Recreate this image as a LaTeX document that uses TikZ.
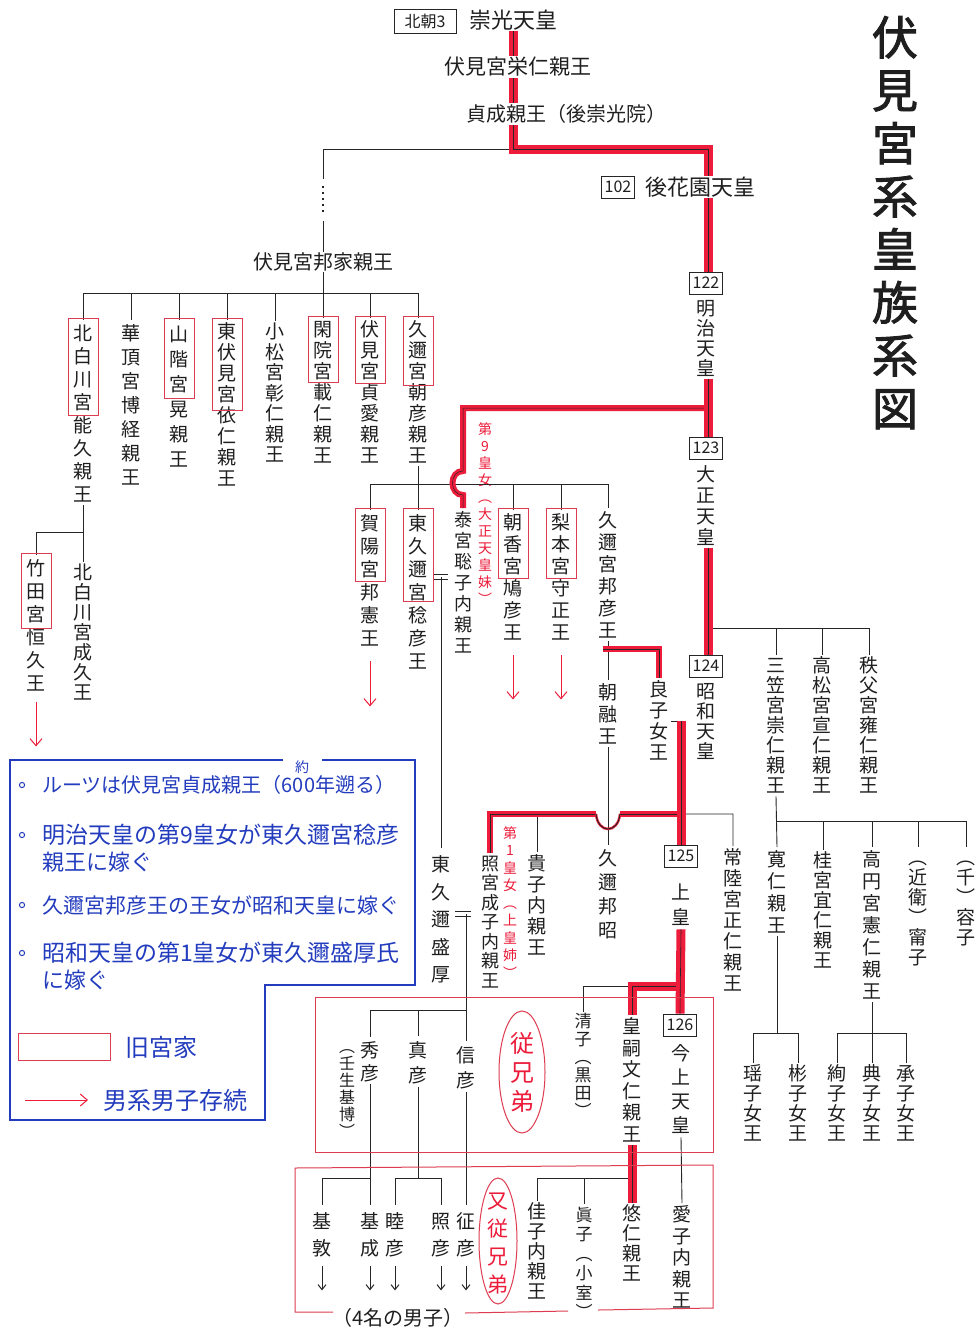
\documentclass[tikz,border=0pt]{standalone}
\usepackage{fontspec}
\setmainfont{Noto Sans CJK JP}
\newfontfamily\titlefont[FakeBold=2]{Noto Sans CJK JP}
\usetikzlibrary{arrows.meta}
\definecolor{redm}{RGB}{236,28,58}
\definecolor{redbx}{RGB}{222,60,80}
\definecolor{bluem}{RGB}{35,60,190}
\newdimen\vtp
\makeatletter
\def\vt@end{\vt@end}
\newcommand\vt[2][22pt]{\vtp=#1\relax\vbox{\offinterlineskip\vt@l#2\vt@end}}
\def\vt@l#1{\ifx#1\vt@end\else\hbox to 1.05em{\hss\vrule width0pt height.84\vtp depth.16\vtp\relax #1\hss}\expandafter\vt@l\fi}
\makeatother
\tikzset{
 every node/.style={text=black!88},
 vt/.style={anchor=north, inner sep=0.5pt, font=\fontsize{19}{22}\selectfont},
 hz/.style={inner sep=1pt, font=\fontsize{20}{24}\selectfont},
 numbox/.style={draw=black!85, line width=0.9pt, inner sep=1.5pt, minimum width=33pt, minimum height=22pt, font=\fontsize{16}{18}\selectfont},
 fl/.style={line width=0.9pt, draw=black!85},
 rl/.style={preaction={draw=redm, line width=9pt}, draw=black!85, line width=0.6pt},
 rls/.style={preaction={draw=redm, line width=6pt}, draw=black!85, line width=0.5pt},
 redbox/.style={draw=redbx, line width=1pt},
 rarr/.style={draw=redm, line width=1pt, -{Straight Barb[length=7pt,width=12pt]}},
 karr/.style={draw=black!85, line width=1pt, -{Straight Barb[length=5pt,width=8pt]}},
 bt/.style={anchor=west, text=bluem, inner sep=0pt, font=\fontsize{22}{26}\selectfont},
 redtxt/.style={anchor=north, text=redm, inner sep=0.5pt, font=\fontsize{14}{17}\selectfont},
}
\newcommand\gbox[2]{\draw[redbox] ([xshift=-15pt,yshift=2pt]#1.north) rectangle ([xshift=15pt,yshift=-#2pt]#1.north);}
\begin{document}
\begin{tikzpicture}[x=1pt,y=-1pt]
\useasboundingbox (0,0) rectangle (977,1341);
\fill[white] (0,0) rectangle (977,1341);

% title
\node[anchor=north, inner sep=0pt, font=\titlefont\fontsize{46}{50}\selectfont] (title) at (895,10) {\vt[53pt]{伏見宮系皇族系図}};

% top line
\node[numbox, minimum width=62pt, minimum height=24pt] (hc3) at (425,21) {北朝3};
\node[hz, font=\fontsize{22}{24}\selectfont] (suko) at (513,20) {崇光天皇};
\node[hz, font=\fontsize{21}{24}\selectfont] (yoshihito) at (518,67) {伏見宮栄仁親王};
\node[hz] (sadafusa) at (566,114) {貞成親王（後崇光院）};
\node[numbox] (n102) at (618,187) {102};
\node[hz, font=\fontsize{22}{24}\selectfont] (gohanazono) at (700,187) {後花園天皇};
\node[hz] (kuniie) at (323,262) {伏見宮邦家親王};

\node[numbox] (n122) at (706,283) {122};
\node[vt] (meiji) at (706,298) {\vt[20pt]{明治天皇}};
\node[numbox] (n123) at (706,448) {123};
\node[vt] (taisho) at (706,463) {\vt[21pt]{大正天皇}};
\node[numbox] (n124) at (706,666) {124};
\node[vt] (showa) at (706,681) {\vt[20pt]{昭和天皇}};

\node[vt] (mikasa) at (776,655) {\vt[20pt]{三笠宮崇仁親王}};
\node[vt] (takamatsu) at (822,655) {\vt[20pt]{高松宮宣仁親王}};
\node[vt] (chichibu) at (869,655) {\vt[20pt]{秩父宮雍仁親王}};

% Kuniie children
\node[vt] (kitashirakawa) at (83,320) {\vt[23pt]{北白川宮能久親王}};
\node[vt] (kacho) at (131,320) {\vt[24pt]{華頂宮博経親王}};
\node[vt] (yamashina) at (179,320) {\vt[25pt]{山階宮晃親王}};
\node[vt] (higashifushimi) at (227,320) {\vt[21pt]{東伏見宮依仁親王}};
\node[vt] (komatsu) at (275,321) {\vt[20.5pt]{小松宮彰仁親王}};
\node[vt] (kanin) at (323,318) {\vt[21pt]{閑院宮載仁親王}};
\node[vt] (fushimi) at (370,318) {\vt[21pt]{伏見宮貞愛親王}};
\node[vt] (kuni) at (418,318) {\vt[21pt]{久邇宮朝彦親王}};

\node[vt] (takeda) at (36,555) {\vt[23pt]{竹田宮恒久王}};
\node[vt] (naruhisa) at (83,562) {\vt[20pt]{北白川宮成久王}};

\node[vt] (kaya) at (370,510) {\vt[23pt]{賀陽宮邦憲王}};
\node[vt] (higashikuni) at (418,510) {\vt[23pt]{東久邇宮稔彦王}};
\node[vt, font=\fontsize{18}{21}\selectfont] (satoko) at (463,508) {\vt[21pt]{泰宮聡子内親王}};
\node[redtxt] (dai9) at (485,420) {\vt[17pt]{第9皇女︵大正天皇妹︶}};
\node[vt] (asaka) at (513,510) {\vt[22pt]{朝香宮鳩彦王}};
\node[vt] (nashimoto) at (561,510) {\vt[22pt]{梨本宮守正王}};
\node[vt] (kuniyoshi) at (608,508) {\vt[22pt]{久邇宮邦彦王}};
\node[vt] (asaakira) at (608,680) {\vt[22pt]{朝融王}};
\node[vt] (nagako) at (659,678) {\vt[21pt]{良子女王}};

\node[vt] (morihiro) at (441,848) {\vt[27.5pt]{東久邇盛厚}};

% Showa children
\node[vt, font=\fontsize{18}{21}\selectfont] (teru) at (490,853) {\vt[19.5pt]{照宮成子内親王}};
\node[redtxt] (dai1) at (510,823) {\vt[17.5pt]{第1皇女︵上皇姉︶}};
\node[vt] (takako) at (537,852) {\vt[21pt]{貴子内親王}};
\node[vt] (kuniakira) at (608,845) {\vt[24pt]{久邇邦昭}};
\node[numbox] (n125) at (681,856) {125};
\node[vt] (joko) at (681,878) {\vt[25pt]{上皇}};
\node[vt] (hitachi) at (733,846) {\vt[21pt]{常陸宮正仁親王}};

% Joko children
\node[vt, font=\fontsize{17}{20}\selectfont] (kiyoko) at (583,1012) {\vt[18pt]{清子︵黒田︶}};
\node[vt] (fumihito) at (632,1015) {\vt[21.5pt]{皇嗣文仁親王}};
\node[numbox] (n126) at (680,1025) {126};
\node[vt] (kinjo) at (681,1040) {\vt[24pt]{今上天皇}};

% cousins
\node[vt] (hidehiko) at (370,1037) {\vt[23pt]{秀彦}};
\node[vt, font=\fontsize{16}{19}\selectfont] (mibu) at (347,1038) {\vt[17pt]{︵壬生基博︶}};
\node[vt] (masahiko) at (418,1036) {\vt[25pt]{真彦}};
\node[vt] (nobuhiko) at (466,1041) {\vt[25pt]{信彦}};
\draw[redbx, line width=1pt] (522,1072) ellipse [x radius=23pt, y radius=61pt];
\node[inner sep=0pt, text=redm, font=\fontsize{24}{28}\selectfont] (jukyo) at (522,1072) {\vt[29pt]{従兄弟}};

% bottom generation
\node[vt] (motoatsu) at (322,1205) {\vt[27pt]{基敦}};
\node[vt] (motonari) at (370,1205) {\vt[27pt]{基成}};
\node[vt] (mutsuhiko) at (395,1205) {\vt[27pt]{睦彦}};
\node[vt] (teruhiko) at (441,1205) {\vt[27pt]{照彦}};
\node[vt] (yukihiko) at (466,1205) {\vt[27pt]{征彦}};
\draw[redbx, line width=1pt] (498,1241) ellipse [x radius=19pt, y radius=63pt];
\node[inner sep=0pt, text=redm, font=\fontsize{21}{25}\selectfont] (matajukyo) at (498,1241) {\vt[28pt]{又従兄弟}};
\node[vt] (kako) at (537,1201) {\vt[20pt]{佳子内親王}};
\node[vt, font=\fontsize{17}{20}\selectfont] (mako) at (584,1204) {\vt[19.5pt]{眞子︵小室︶}};
\node[vt] (hisahito) at (632,1203) {\vt[20pt]{悠仁親王}};
\node[vt] (aiko) at (682,1203) {\vt[21.5pt]{愛子内親王}};
\node[hz] (four) at (398,1318) {（4名の男子）};

% Mikasa descendants
\node[vt] (tomohito) at (777,847) {\vt[22pt]{寛仁親王}};
\node[vt] (katsura) at (823,850) {\vt[20pt]{桂宮宜仁親王}};
\node[vt] (takamado) at (872,847) {\vt[22pt]{高円宮憲仁親王}};
\node[vt] (yasuko) at (918,847) {\vt[20pt]{︵近衛︶甯子}};
\node[vt] (masako) at (966,847) {\vt[20pt]{︵千︶容子}};
\node[vt] (yoko) at (753,1063) {\vt[20pt]{瑶子女王}};
\node[vt] (akiko) at (798,1063) {\vt[20pt]{彬子女王}};
\node[vt] (ayako) at (837,1063) {\vt[20pt]{絢子女王}};
\node[vt] (noriko) at (872,1063) {\vt[20pt]{典子女王}};
\node[vt] (tsuguko) at (906,1063) {\vt[20pt]{承子女王}};

% coordinates
\coordinate (tt) at (513,0);
\coordinate (tr) at (708,0);
\coordinate (sJ) at (513,149);
\coordinate (dA) at (0,179);
\coordinate (dB) at (0,186);
\coordinate (dC) at (0,214);
\coordinate (dD) at (0,221);
\coordinate (b1) at (0,293);
\coordinate (mJ) at (708,408);
\coordinate (bpA) at (0,471);
\coordinate (bpB) at (0,495);
\coordinate (b3) at (0,484);
\coordinate (b2) at (0,532);
\coordinate (tJ) at (708,628);
\coordinate (kJ) at (608,649);
\coordinate (m1) at (441,577);
\coordinate (sM) at (681,721);
\coordinate (sb) at (0,814);
\coordinate (dipL) at (596,814);
\coordinate (dipR) at (620,814);
\coordinate (cm) at (466,914);
\coordinate (jb) at (0,986);
\coordinate (cb) at (0,1010);
\coordinate (db) at (0,1178);
\coordinate (mb) at (0,821);
\coordinate (tb) at (0,1033);

% black connectors
\draw[fl] (sJ) -- (kuniie.north |- sJ) -- (kuniie.north |- dA);
\draw[black!85, line width=2.4pt, dash pattern=on 2.4pt off 3.6pt] (kuniie.north |- dB) -- (kuniie.north |- dC);
\draw[fl] (kuniie.north |- dD) -- (kuniie.north);
\draw[fl] (kuniie.south) -- (kuniie.south |- b1);
\draw[fl] (kitashirakawa.north) -- (kitashirakawa.north |- b1) -- (kuni.north |- b1) -- (kuni.north);
\foreach \n in {kacho,yamashina,higashifushimi,komatsu,kanin,fushimi} \draw[fl] (\n.north |- b1) -- (\n.north);
\draw[fl] (kitashirakawa.south) -- (naruhisa.north);
\draw[fl] (kitashirakawa.south |- b2) -- (takeda.north |- b2) -- (takeda.north);
\draw[fl] (kuni.south) -- (higashikuni.north);
\draw[fl] (kaya.north) -- (kaya.north |- b3) -- (kuniyoshi.north |- b3) -- (kuniyoshi.north);
\foreach \n in {asaka,nashimoto} \draw[fl] (\n.north |- b3) -- (\n.north);
\draw[fl] ([xshift=-8pt,yshift=2.2pt]m1) -- ([xshift=7pt,yshift=2.2pt]m1);
\draw[fl] ([xshift=-8pt,yshift=-2.2pt]m1) -- ([xshift=7pt,yshift=-2.2pt]m1);
\draw[fl] (m1) -- (morihiro.north);
\draw[fl] (kuniyoshi.south) -- (asaakira.north);
\draw[fl] (asaakira.south) -- (kuniakira.north);
\draw[fl] (tJ) -- (chichibu.north |- tJ) -- (chichibu.north);
\foreach \n in {mikasa,takamatsu} \draw[fl] (\n.north |- tJ) -- (\n.north);
\draw[fl] ([xshift=-10pt]sM) -- ([xshift=3pt]sM);
\draw[fl] (teru.north |- sb) -- (dipL) .. controls (598,834) and (618,834) .. (dipR) -- (hitachi.north |- sb) -- (hitachi.north);
\draw[fl] (takako.north |- sb) -- (takako.north);
\draw[fl] ([xshift=-11pt,yshift=2.4pt]cm) -- ([xshift=5pt,yshift=2.4pt]cm);
\draw[fl] ([xshift=-11pt,yshift=-2.4pt]cm) -- ([xshift=5pt,yshift=-2.4pt]cm);
\draw[fl] (cm) -- (nobuhiko.north);
\draw[fl] (hidehiko.north) -- (hidehiko.north |- cb) -- (nobuhiko.north |- cb);
\draw[fl] (masahiko.north |- cb) -- (masahiko.north);
\draw[fl] (kiyoko.north) -- (kiyoko.north |- jb) -- (fumihito.north |- jb);
\draw[fl] (hidehiko.south) -- (motonari.north);
\draw[fl] (motonari.north |- db) -- (motoatsu.north |- db) -- (motoatsu.north);
\draw[fl] (masahiko.south) -- (masahiko.south |- db);
\draw[fl] (mutsuhiko.north) -- (mutsuhiko.north |- db) -- (teruhiko.north |- db) -- (teruhiko.north);
\draw[fl] (nobuhiko.south) -- (yukihiko.north);
\draw[fl] (kako.north) -- (kako.north |- db) -- (hisahito.north |- db);
\draw[fl] (mako.north |- db) -- (mako.north);
\draw[fl] (kinjo.south) -- (aiko.north);
\foreach \n in {motoatsu,motonari,mutsuhiko,teruhiko,yukihiko} \draw[karr] ([yshift=-6pt]\n.south) -- ([yshift=-30pt]\n.south);
\draw[fl] (mikasa.south) -- (tomohito.north);
\draw[fl] (tomohito.north |- mb) -- (masako.north |- mb) -- (masako.north);
\foreach \n in {katsura,takamado,yasuko} \draw[fl] (\n.north |- mb) -- (\n.north);
\draw[fl] (tomohito.south) -- (tomohito.south |- tb);
\draw[fl] (yoko.north) -- (yoko.north |- tb) -- (akiko.north |- tb) -- (akiko.north);
\draw[fl] (takamado.south) -- (noriko.north);
\draw[fl] (ayako.north) -- (ayako.north |- tb) -- (tsuguko.north |- tb) -- (tsuguko.north);

% red lines
\draw[rl] (suko.south -| tt) -- (yoshihito.north -| tt);
\draw[rl] (yoshihito.south -| tt) -- (sadafusa.north -| tt);
\draw[rl] (sadafusa.south -| tt) -- (sJ) -- (sJ -| tr) -- (gohanazono.north -| tr);
\draw[rl] (gohanazono.south -| tr) -- (n122.north -| tr);
\draw[rls] (mJ) -- (satoko.north |- mJ) -- (satoko.north |- bpA) .. controls (449,471) and (449,495) .. (satoko.north |- bpB) -- (satoko.north);
\draw[rl] (meiji.south -| tr) -- (n123.north -| tr);
\draw[rl] (taisho.south -| tr) -- (n124.north -| tr);
\draw[rls] ([xshift=-5pt]kJ) -- (nagako.north |- kJ) -- (nagako.north);
\draw[rls] (teru.north) -- (teru.north |- sb) -- (dipL);
\draw[redm, line width=2.5pt] (dipL) .. controls (598,834) and (618,834) .. (dipR);
\draw[fl] (dipL) .. controls (598,834) and (618,834) .. (dipR);
\draw[rls] (dipR) -- (sM |- sb);
\draw[rl] (sM) -- (n125.north);
\draw[rl] (joko.south |- jb) -- (fumihito.north |- jb) -- (fumihito.north);
\draw[rl] (joko.south) -- (n126.north);
\draw[rl] (fumihito.south) -- (hisahito.north);

% red boxes (former princely houses)
\gbox{kitashirakawa}{95}
\gbox{yamashina}{78}
\gbox{higashifushimi}{90}
\gbox{kanin}{64}
\gbox{fushimi}{65}
\gbox{kuni}{67}
\gbox{takeda}{73}
\gbox{kaya}{71}
\gbox{higashikuni}{91}
\gbox{asaka}{68}
\gbox{nashimoto}{68}

% red arrows
\draw[rarr] ([yshift=-8pt]takeda.south) -- ([yshift=-52pt]takeda.south);
\draw[rarr] ([yshift=-12pt]kaya.south) -- ([yshift=-57pt]kaya.south);
\draw[rarr] ([yshift=-12pt]asaka.south) -- ([yshift=-56pt]asaka.south);
\draw[rarr] ([yshift=-12pt]nashimoto.south) -- ([yshift=-56pt]nashimoto.south);

% cousin boxes
\draw[redbox] (315,997) rectangle (713,1152);
\draw[redbox] (333,1312) -- (295,1312) -- (295,1168) -- (713,1165) -- (713,1308) -- (598,1310);
\draw[redbox] (568,1311) -- (465,1313);

% blue note box
\draw[bluem, line width=1.1pt] (283,760) -- (10,760) -- (10,1120) -- (265,1120) -- (265,985) -- (415,985) -- (415,760) -- (322,760);
\foreach \y in {785,835,905,953} \draw[bluem, line width=1pt] (22,\y) circle[radius=2.6pt];
\node[bt, font=\fontsize{20}{24}\selectfont] (l1) at (42,785) {ルーツは伏見宮貞成親王（600年遡る）};
\node[text=bluem, inner sep=0pt, font=\fontsize{14}{16}\selectfont] (yaku) at (302,767) {約};
\node[bt, font=\fontsize{23}{26}\selectfont] (l2) at (42,835) {明治天皇の第9皇女が東久邇宮稔彦};
\node[bt] (l3) at (42,862) {親王に嫁ぐ};
\node[bt, font=\fontsize{21}{25}\selectfont] (l4) at (42,905) {久邇宮邦彦王の王女が昭和天皇に嫁ぐ};
\node[bt, font=\fontsize{23}{26}\selectfont] (l5) at (42,953) {昭和天皇の第1皇女が東久邇盛厚氏};
\node[bt] (l6) at (42,980) {に嫁ぐ};
\draw[redbox] (18,1033) rectangle (110,1060);
\node[bt, font=\fontsize{24}{27}\selectfont] (kyu) at (125,1047) {旧宮家};
\draw[rarr] (25,1100) -- (88,1100);
\node[bt, font=\fontsize{24}{27}\selectfont] (dansei) at (103,1100) {男系男子存続};
\end{tikzpicture}
\end{document}
